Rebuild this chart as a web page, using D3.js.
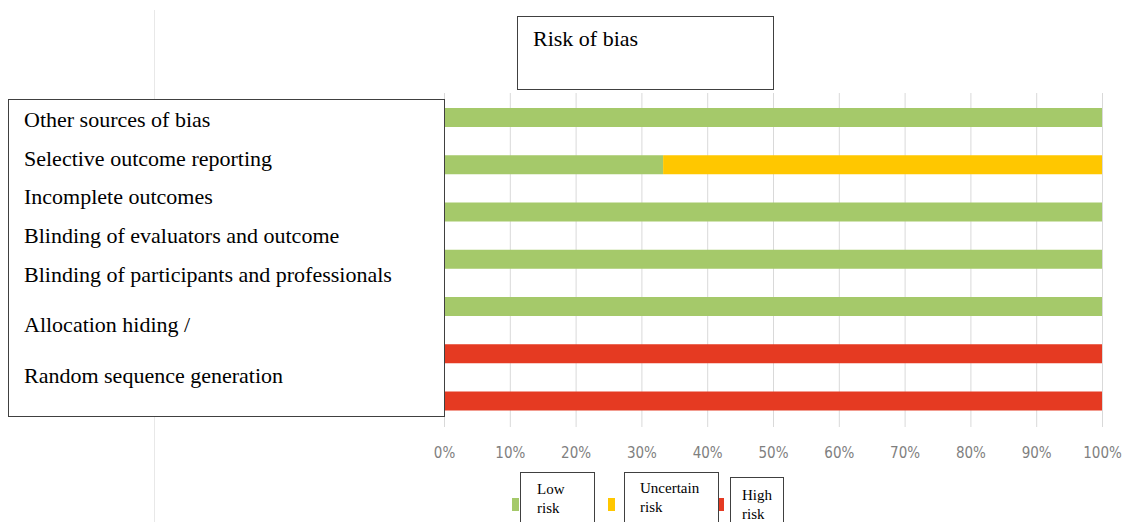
<!DOCTYPE html>
<html>
<head>
<meta charset="utf-8">
<script src="https://cdn.jsdelivr.net/npm/d3@7"></script>
<style>
  body { margin: 0; background: #fff; }
  svg { display: block; }
</style>
</head>
<body>
<script>
// data
var categories = ["Other sources of bias", "Selective outcome reporting", "Incomplete outcomes",
  "Blinding of evaluators and outcome", "Blinding of participants and professionals",
  "Allocation hiding /", "Random sequence generation"];
var lowRisk = [100, 33.3, 100, 100, 100, 0, 0];
var uncertainRisk = [0, 66.7, 0, 0, 0, 0, 0];
var highRisk = [0, 0, 0, 0, 0, 100, 100];
var seriesNames = ["Low risk", "Uncertain risk", "High risk"];
var ticks = [0, 10, 20, 30, 40, 50, 60, 70, 80, 90, 100];
var title = "Risk of bias";

var width = 1130;
var height = 522;
var colors = ["#a5c96a", "#ffc700", "#e53a22"];

var svg = d3.select("body").append("svg")
  .attr("width", width)
  .attr("height", height);

// faint chart area border
svg.append("line")
  .attr("x1", 154.5).attr("x2", 154.5)
  .attr("y1", 10).attr("y2", height)
  .attr("stroke", "#e8e8e8").attr("stroke-width", 1);

var x = d3.scaleLinear().domain([0, 100]).range([444, 1102]);
var y = d3.scalePoint().domain(categories).range([117.5, 401]);
var barH = 19;

// gridlines
svg.append("g").selectAll("line")
  .data(ticks)
  .enter()
  .append("line")
  .attr("x1", function(d){ return x(d) + 0.5; })
  .attr("x2", function(d){ return x(d) + 0.5; })
  .attr("y1", 93).attr("y2", 427)
  .attr("stroke", "#d9d9d9")
  .attr("stroke-width", 1);

// stacked bars
var rows = categories.map(function(c, i){
  return { cat: c, low: lowRisk[i], unc: uncertainRisk[i], high: highRisk[i] };
});
var stack = d3.stack().keys(["low", "unc", "high"]);
var layers = stack(rows);

svg.append("g").selectAll("g")
  .data(layers)
  .enter()
  .append("g")
  .attr("fill", function(d, i){ return colors[i]; })
  .selectAll("rect")
  .data(function(d){ return d; })
  .enter()
  .append("rect")
  .attr("x", function(d){ return x(d[0]); })
  .attr("width", function(d){ return x(d[1]) - x(d[0]); })
  .attr("y", function(d){ return y(d.data.cat) - barH / 2; })
  .attr("height", barH);

// x axis labels
var xAxis = d3.axisBottom(x)
  .tickValues(ticks)
  .tickSize(0)
  .tickFormat(function(d){ return d + "%"; });

var ax = svg.append("g")
  .attr("transform", "translate(0,450)")
  .call(xAxis);
ax.select(".domain").remove();
ax.selectAll("text")
  .attr("fill", "#7f7f7f")
  .attr("font-family", "'Liberation Sans Narrow', 'DejaVu Sans Condensed', sans-serif")
  .attr("font-size", 15)
  .attr("dy", "0.32em");

// legend swatches (their labels sit in the boxes below)
var swX = [512, 608, 717];
svg.append("g").selectAll("rect")
  .data(seriesNames)
  .enter()
  .append("rect")
  .attr("x", function(d, i){ return swX[i]; })
  .attr("y", 498)
  .attr("width", 7)
  .attr("height", 13)
  .attr("fill", function(d, i){ return colors[i]; });

// text boxes overlaid on the chart
function textBox(bx, by, bw, bh, lines, lineY, tx, size){
  var g = svg.append("g");
  g.append("rect")
    .attr("x", bx + 0.5).attr("y", by + 0.5)
    .attr("width", bw).attr("height", bh)
    .attr("fill", "#fff")
    .attr("stroke", "#404040")
    .attr("stroke-width", 1);
  g.selectAll("text")
    .data(lines)
    .enter()
    .append("text")
    .attr("x", tx)
    .attr("y", function(d, i){ return lineY[i]; })
    .attr("font-family", "'Liberation Serif', 'Times New Roman', serif")
    .attr("font-size", size)
    .attr("fill", "#000")
    .text(function(d){ return d; });
}

textBox(517, 16, 256, 73, [title], [46], 533, 22);
textBox(8, 99, 436, 317, categories, [127, 166, 204, 243, 282, 332, 383], 24, 22);

var legendLines = seriesNames.map(function(s){ return s.split(" "); });
textBox(520, 472, 74, 60, legendLines[0], [494, 513], 537, 15);
textBox(624, 472, 94, 60, legendLines[1], [493, 512], 640, 15);
textBox(730, 477, 53, 60, legendLines[2], [500, 519], 742, 15);
</script>
</body>
</html>
